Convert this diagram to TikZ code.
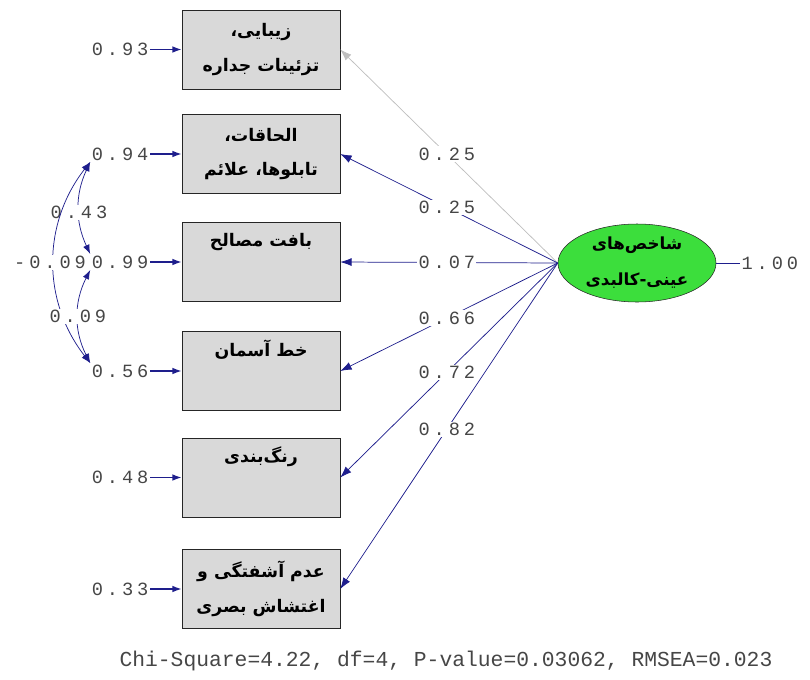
\documentclass[tikz,border=0pt]{standalone}
\usepackage{fontspec}
\usetikzlibrary{arrows.meta,shapes.geometric}
\TeXXeTstate=1
\newfontfamily\farsifont[Script=Arabic]{DejaVu Sans}
\newfontfamily\lisfont[LetterSpace=21]{Liberation Mono}
\newfontfamily\fitfont{Liberation Mono}
\newcommand\fatext[1]{\beginR #1\endR}
\definecolor{pathblue}{RGB}{30,30,140}
\definecolor{boxgray}{RGB}{217,217,217}
\definecolor{latgreen}{RGB}{60,222,60}
\definecolor{numgray}{RGB}{70,70,70}
\begin{document}
\begin{tikzpicture}[x=0.75pt,y=-0.75pt,
        obs/.style={draw=black!85,fill=boxgray,minimum width=118.5pt,minimum height=59.25pt,align=center,inner sep=0pt,font=\farsifont\bfseries\fontsize{13}{26}\selectfont},
        lat/.style={ellipse,draw=black!85,fill=latgreen,minimum width=118.5pt,minimum height=58.5pt,align=center,inner sep=0pt,font=\farsifont\bfseries\fontsize{12.5}{27}\selectfont},
        num/.style={font=\lisfont\fontsize{14}{16}\selectfont,text=numgray,inner sep=1pt},
        ld/.style={draw=pathblue,line width=0.55pt,-{Latex[length=8.5pt,width=6pt]}},
        er/.style={draw=pathblue,line width=1.1pt,-{Latex[length=7pt,width=5pt]}},
        cv/.style={draw=pathblue,line width=0.55pt,{Latex[length=7pt,width=5pt]}-{Latex[length=7pt,width=5pt]}}]
        \useasboundingbox (0,0) rectangle (810,679);
        \foreach \i/\y/\e/\t in {1/49.5/0.93/{\fatext{زیبایی،}\\\fatext{تزئینات جداره}},
                2/154/0.94/{\fatext{الحاقات،}\\\fatext{تابلوها، علائم}},
                3/262/0.99/{\fatext{بافت مصالح}\\\strut},
                4/371/0.56/{\fatext{خط آسمان}\\\strut},
                5/477.5/0.48/{\fatext{رنگ‌بندی}\\\strut},
                6/589/0.33/{\fatext{عدم آشفتگی و}\\\fatext{اغتشاش بصری}}} {
            \node[obs] (b\i) at (261,\y) {\t};
            \node[num,anchor=east] (e\i) at (150,\y) {\e};
            \draw[er] (e\i) -- (b\i);
        }
        \node[lat] (f) at (637,263) {\fatext{شاخص‌های}\\\fatext{عینی-کالبدی}};
        \node[num,anchor=west] (v) at (740,263) {1.00};
        \draw[draw=pathblue,line width=0.55pt] (f) -- (v);
        \draw[ld,draw=black!25] (f.west) -- node[num,fill=white,pos=0.51] {0.25} (b1.east);
        \foreach \i/\c in {2/0.25,3/0.07,4/0.66,5/0.72,6/0.82}
            \draw[ld] (f.west) -- node[num,fill=white,pos=0.51] {\c} (b\i.east);
        \draw[cv] (e2.south west) to[bend right=25] node[num,fill=white,pos=0.55] {0.43} (e3.north west);
        \draw[cv] (e2.south west) to[bend right=38] node[num,fill=white,xshift=-3pt] {-0.09} (e4.north west);
        \draw[cv] (e3.south west) to[bend right=27] node[num,fill=white] {0.09} (e4.north west);
        \node[font=\fitfont\fontsize{16}{18}\selectfont,text=numgray] (fit) at (446,661) {Chi-Square=4.22, df=4, P-value=0.03062, RMSEA=0.023};
\end{tikzpicture}
\end{document}
